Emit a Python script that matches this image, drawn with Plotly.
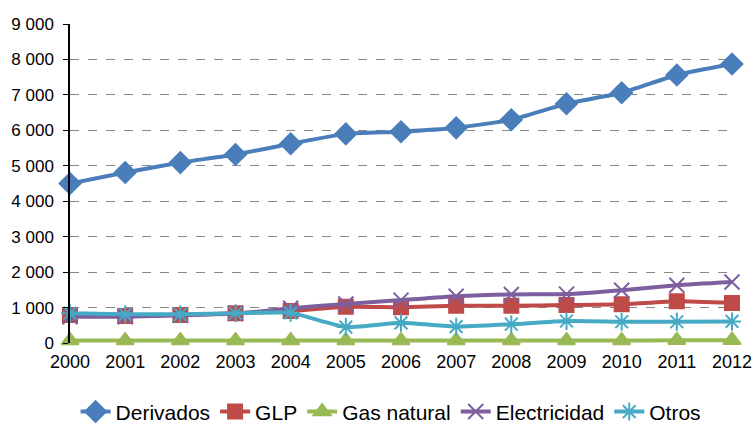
import plotly.graph_objects as go

# Datos
anios = [2000, 2001, 2002, 2003, 2004, 2005, 2006, 2007, 2008, 2009, 2010, 2011, 2012]
derivados = [4500, 4810, 5090, 5320, 5620, 5900, 5960, 6070, 6300, 6750, 7060, 7560, 7870]
glp = [790, 760, 790, 840, 900, 1020, 1010, 1050, 1050, 1070, 1090, 1180, 1130]
gas_natural = [70, 70, 70, 70, 70, 70, 70, 70, 70, 70, 70, 75, 80]
electricidad = [740, 740, 780, 830, 980, 1100, 1210, 1320, 1370, 1380, 1490, 1630, 1720]
otros = [840, 810, 810, 840, 850, 450, 570, 460, 530, 620, 600, 600, 610]

series = [
    ('Derivados', derivados, '#4A7EBB', 'diamond', 16),
    ('GLP', glp, '#BE4B48', 'square', 14),
    ('Gas natural', gas_natural, '#98B954', 'triangle-up', 15),
    ('Electricidad', electricidad, '#7D5FA0', 'x-thin-open', 15),
    ('Otros', otros, '#46AAC5', 'asterisk-open', 15),
]

fig = go.Figure()
for nombre, valores, color, simbolo, tam in series:
    fig.add_trace(go.Scatter(
        x=anios, y=valores, name=nombre, mode='lines+markers',
        line=dict(color=color, width=4, shape='spline', smoothing=0.5),
        marker=dict(symbol=simbolo, size=tam, color=color,
                    line=dict(color=color, width=2)),
        cliponaxis=False,
    ))

fig.update_layout(
    width=755, height=423,
    margin=dict(l=70, r=23, t=24, b=80, autoexpand=False),
    plot_bgcolor='white', paper_bgcolor='white',
    font=dict(family='Liberation Sans, Arial, sans-serif', size=17, color='black'),
    separators=', ',
    showlegend=True,
    legend=dict(orientation='h', x=0.485, xanchor='center', y=-0.216, yanchor='middle',
                font=dict(size=21), tracegroupgap=0),
)
fig.update_xaxes(
    range=[2000, 2012], tickmode='array', tickvals=anios,
    showgrid=False, zeroline=False, showline=False,
    tickfont=dict(size=18), ticklabelstandoff=6,
)
fig.update_yaxes(
    range=[0, 9000], dtick=1000, tickformat=',d',
    showgrid=True, gridcolor='#888888', griddash='dash', gridwidth=1,
    zeroline=False, showline=True, linecolor='black', linewidth=1.5,
    ticks='outside', ticklen=5, tickcolor='black',
    tickfont=dict(size=17), ticklabelstandoff=6,
)

# quitar el margen del body para que la figura quede en la ventana
fig.write_html('out.html', config={'displayModeBar': False},
               post_script="document.body.style.margin='0';")
